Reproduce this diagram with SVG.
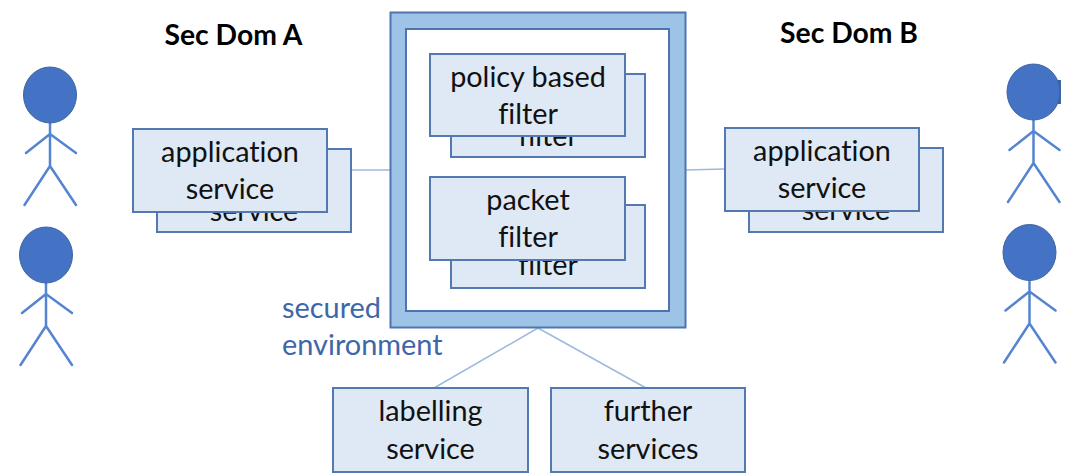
<svg xmlns="http://www.w3.org/2000/svg" width="1089" height="475" viewBox="0 0 1089 475">
<style>
.box{fill:#dee9f5;stroke:#5478b0;stroke-width:2}
.t{font-family:"Lato","Liberation Sans",sans-serif;font-size:28.8px;fill:#111;text-anchor:middle;font-variant-ligatures:none}
.h{font-family:"Lato","Liberation Sans",sans-serif;font-size:28.300px;font-weight:700;fill:#000;text-anchor:middle}
.b{font-family:"Lato","Liberation Sans",sans-serif;font-size:28.9px;fill:#3f66a8}
.c{fill:none;stroke:#9db9e0;stroke-width:1.5}
.head{fill:#4472c4;stroke:#3d659f;stroke-width:1}
.limb{fill:none;stroke:#5585d0;stroke-width:2.5;stroke-linecap:round;stroke-linejoin:round}
</style>
<defs>
<g id="person">
<path class="limb" d="M0 28V71M0 39L-24 58M0 39L26 58M0 71L-25.500 110M0 71L26 110"/>
<ellipse class="head" cx="0" cy="0" rx="26.500" ry="28"/>
</g>
<clipPath id="clipR"><rect x="990" y="50" width="71" height="170"/></clipPath>
</defs>
<rect width="1089" height="475" fill="#fff"/>
<g id="connectors">
<path class="c" d="M327 170H390"/>
<path class="c" d="M686 170L724 169"/>
<path class="c" d="M538 328L434 388"/>
<path class="c" d="M538 328L646 388"/>
</g>
<text id="title-a" class="h" x="233.500" y="45">Sec Dom A</text>
<text id="title-b" class="h" x="849" y="43">Sec Dom B</text>
<g id="user-a1"><use href="#person" x="50" y="95"/></g>
<g id="user-a2"><use href="#person" x="46" y="255"/></g>
<g id="user-b1" clip-path="url(#clipR)">
<rect x="1050" y="80" width="12" height="24" fill="#3d659f"/>
<use href="#person" x="1033.500" y="92"/>
</g>
<g id="user-b2"><use href="#person" x="1029.500" y="252.500"/></g>
<g id="app-a-back"><rect class="box" x="157" y="149" width="194" height="83"/><text class="t" x="254" y="221">service</text></g>
<g id="app-a"><rect class="box" x="133" y="129" width="194" height="83"/><text class="t" x="230" y="162">application</text><text class="t" x="230" y="199">service</text></g>
<g id="app-b-back"><rect class="box" x="749" y="148" width="194" height="84"/><text class="t" x="846" y="220">service</text></g>
<g id="app-b"><rect class="box" x="725" y="128" width="194" height="83"/><text class="t" x="822" y="161">application</text><text class="t" x="822" y="198">service</text></g>
<g id="secured-environment">
<rect x="390.500" y="12.500" width="295" height="315" fill="#9dc3e6" stroke="#4f74ad" stroke-width="2"/>
<rect x="406" y="29" width="263" height="282" fill="#fff" stroke="#4f74ad" stroke-width="2"/>
</g>
<g id="policy-back"><rect class="box" x="451" y="74" width="194" height="83"/><text class="t" x="548" y="146">filter</text></g>
<g id="policy"><rect class="box" x="430" y="54" width="195" height="82"/><text class="t" x="528" y="87">policy based</text><text class="t" x="528" y="124">filter</text></g>
<g id="packet-back"><rect class="box" x="451" y="205" width="194" height="83"/><text class="t" x="548" y="275">filter</text></g>
<g id="packet"><rect class="box" x="430" y="177" width="195" height="83"/><text class="t" x="528" y="210">packet</text><text class="t" x="528" y="247">filter</text></g>
<text id="secured-label" class="b"><tspan x="282" y="318">secured</tspan><tspan x="282" y="355">environment</tspan></text>
<g id="labelling"><rect class="box" x="333" y="388" width="195" height="84"/><text class="t" x="430.500" y="421">labelling</text><text class="t" x="430.500" y="459">service</text></g>
<g id="further"><rect class="box" x="551" y="388" width="194" height="84"/><text class="t" x="648" y="421">further</text><text class="t" x="648" y="459">services</text></g>
</svg>
